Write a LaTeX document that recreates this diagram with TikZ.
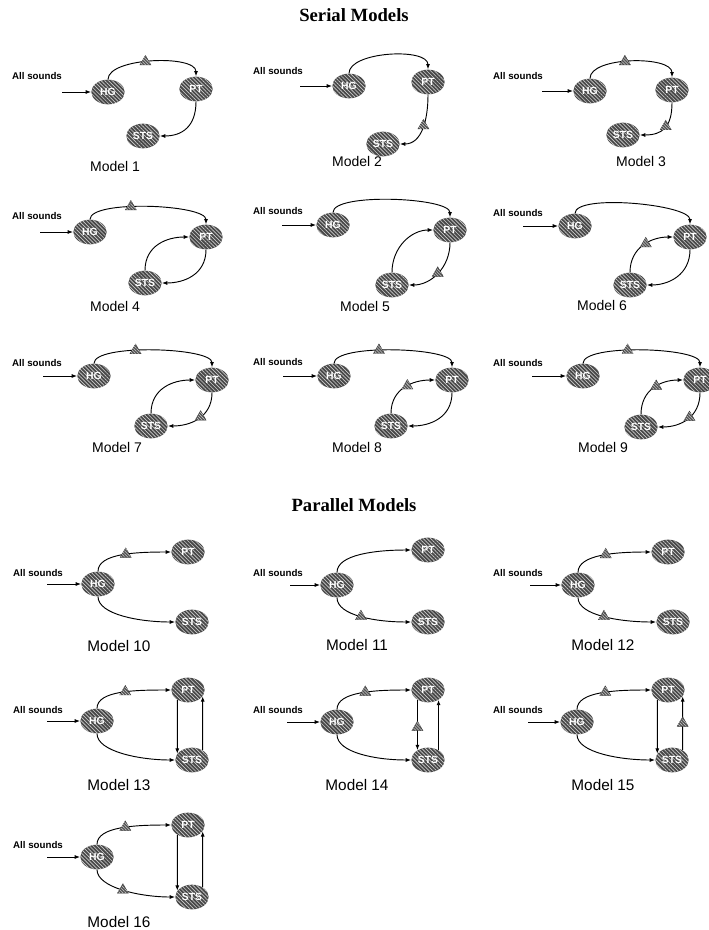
\documentclass[tikz,border=0pt]{standalone}
\usepackage{fontspec}
\setmainfont{Liberation Serif}
\newfontfamily\arialf{Liberation Sans}
\usetikzlibrary{shapes.geometric,patterns.meta,arrows.meta}
\tikzset{
  area/.style={ellipse, minimum width=25pt, minimum height=18.5pt, inner sep=0pt,
    fill=black!72, postaction={pattern={Lines[angle=-45,distance=2pt,line width=0.5pt]}, pattern color=white!80!black},
    text=white, font=\arialf\fontsize{7.8}{8}\selectfont\bfseries},
  tri/.style={regular polygon, regular polygon sides=3, minimum size=9.5pt, inner sep=0pt,
    fill=black!68, draw=black!80, line width=0.3pt,
    postaction={pattern={Lines[angle=-45,distance=1.6pt,line width=0.4pt]}, pattern color=white!80!black}},
  arr/.style={line width=0.7pt, -{Latex[length=4pt,width=3pt]}},
  snd/.style={font=\arialf\fontsize{7.3}{8}\selectfont\bfseries},
  mlab/.style={font=\arialf\fontsize{10.5}{12}\selectfont},
  plab/.style={font=\arialf\fontsize{11.5}{13}\selectfont},
  ttl/.style={font=\bfseries\fontsize{14}{16}\selectfont}
}
\begin{document}
\begin{tikzpicture}[x=0.75pt,y=-0.75pt]
\fill[white] (0,0) rectangle (708,930);
\useasboundingbox (0,0) rectangle (708,930);

\node[ttl] (titleS) at (354,15) {Serial Models};
\node[ttl] (titleP) at (354,505) {Parallel Models};

% ---------- Model 1
\node[snd] (s1) at (37,76) {All sounds};
\coordinate (i1) at (62,92);
\node[area] (hg1) at (108,92) {HG};
\node[area] (pt1) at (196,89) {PT};
\node[area] (st1) at (143,136) {STS};
\draw[arr] (i1) -- (hg1);
\draw[arr] (hg1.north) .. controls +(0,-22) and +(0,-22) .. (pt1.north) node[tri,pos=0.45] (t1a) {};
\draw[arr] (pt1.south) .. controls +(0,25) and +(22,0) .. (st1.east);
\node[mlab] (m1) at (115,166) {Model 1};

% ---------- Model 2
\node[snd] (s2) at (278,71) {All sounds};
\coordinate (i2) at (300,86);
\node[area] (hg2) at (349,86) {HG};
\node[area] (pt2) at (428,82) {PT};
\node[area] (st2) at (383,144) {STS};
\draw[arr] (i2) -- (hg2);
\draw[arr] (hg2.north) .. controls +(0,-22) and +(0,-22) .. (pt2.north);
\draw[arr] (pt2.south) .. controls +(0,25) and +(22,0) .. (st2.east) node[tri,pos=0.45] (t2b) {};
\node[mlab] (m2) at (357,161) {Model 2};

% ---------- Model 3
\node[snd] (s3) at (518,76) {All sounds};
\coordinate (i3) at (542,91);
\node[area] (hg3) at (590,91) {HG};
\node[area] (pt3) at (672,90) {PT};
\node[area] (st3) at (623,135) {STS};
\draw[arr] (i3) -- (hg3);
\draw[arr] (hg3.north) .. controls +(0,-22) and +(0,-22) .. (pt3.north) node[tri,pos=0.45] (t3a) {};
\draw[arr] (pt3.south) .. controls +(0,25) and +(22,0) .. (st3.east) node[tri,pos=0.45] (t3b) {};
\node[mlab] (m3) at (641,161) {Model 3};

% ---------- Model 4
\node[snd] (s4) at (37,216) {All sounds};
\coordinate (i4) at (40,232);
\node[area] (hg4) at (90,232) {HG};
\node[area] (pt4) at (206,237) {PT};
\node[area] (st4) at (145,283) {STS};
\draw[arr] (i4) -- (hg4);
\draw[arr] (hg4.north) .. controls +(0,-20) and +(0,-20) .. (pt4.north) node[tri,pos=0.4] (t4a) {};
\draw[arr] (st4.north) .. controls +(0,-25) and +(-22,0) .. (pt4.west);
\draw[arr] (pt4.south) .. controls +(0,25) and +(22,0) .. (st4.east);
\node[mlab] (m4) at (115,306) {Model 4};

% ---------- Model 5
\node[snd] (s5) at (278,211) {All sounds};
\coordinate (i5) at (282,225);
\node[area] (hg5) at (333,225) {HG};
\node[area] (pt5) at (450,230) {PT};
\node[area] (st5) at (392,285) {STS};
\draw[arr] (i5) -- (hg5);
\draw[arr] (hg5.north) .. controls +(0,-20) and +(0,-20) .. (pt5.north);
\draw[arr] (st5.north) .. controls +(0,-25) and +(-22,0) .. (pt5.west);
\draw[arr] (pt5.south) .. controls +(0,25) and +(22,0) .. (st5.east) node[tri,pos=0.5] (t5b) {};
\node[mlab] (m5) at (365,306) {Model 5};

% ---------- Model 6
\node[snd] (s6) at (518,213) {All sounds};
\coordinate (i6) at (523,226);
\node[area] (hg6) at (575,226) {HG};
\node[area] (pt6) at (690,237) {PT};
\node[area] (st6) at (630,285) {STS};
\draw[arr] (i6) -- (hg6);
\draw[arr] (hg6.north) .. controls +(0,-20) and +(0,-20) .. (pt6.north);
\draw[arr] (st6.north) .. controls +(0,-25) and +(-22,0) .. (pt6.west) node[tri,pos=0.55] (t6c) {};
\draw[arr] (pt6.south) .. controls +(0,25) and +(22,0) .. (st6.east);
\node[mlab] (m6) at (602,305) {Model 6};

% ---------- Model 7
\node[snd] (s7) at (37,363) {All sounds};
\coordinate (i7) at (43,376);
\node[area] (hg7) at (94,376) {HG};
\node[area] (pt7) at (212,380) {PT};
\node[area] (st7) at (151,426) {STS};
\draw[arr] (i7) -- (hg7);
\draw[arr] (hg7.north) .. controls +(0,-20) and +(0,-20) .. (pt7.north) node[tri,pos=0.4] (t7a) {};
\draw[arr] (st7.north) .. controls +(0,-25) and +(-22,0) .. (pt7.west);
\draw[arr] (pt7.south) .. controls +(0,25) and +(22,0) .. (st7.east) node[tri,pos=0.45] (t7b) {};
\node[mlab] (m7) at (117,447) {Model 7};

% ---------- Model 8
\node[snd] (s8) at (278,362) {All sounds};
\coordinate (i8) at (283,376);
\node[area] (hg8) at (334,376) {HG};
\node[area] (pt8) at (452,380) {PT};
\node[area] (st8) at (391,426) {STS};
\draw[arr] (i8) -- (hg8);
\draw[arr] (hg8.north) .. controls +(0,-20) and +(0,-20) .. (pt8.north) node[tri,pos=0.42] (t8a) {};
\draw[arr] (st8.north) .. controls +(0,-25) and +(-22,0) .. (pt8.west) node[tri,pos=0.55] (t8c) {};
\draw[arr] (pt8.south) .. controls +(0,25) and +(22,0) .. (st8.east);
\node[mlab] (m8) at (357,447) {Model 8};

% ---------- Model 9
\node[snd] (s9) at (518,363) {All sounds};
\coordinate (i9) at (532,376);
\node[area] (hg9) at (583,376) {HG};
\node[area] (pt9) at (700,380) {PT};
\node[area] (st9) at (641,427) {STS};
\draw[arr] (i9) -- (hg9);
\draw[arr] (hg9.north) .. controls +(0,-20) and +(0,-20) .. (pt9.north) node[tri,pos=0.42] (t9a) {};
\draw[arr] (st9.north) .. controls +(0,-25) and +(-22,0) .. (pt9.west) node[tri,pos=0.55] (t9c) {};
\draw[arr] (pt9.south) .. controls +(0,25) and +(22,0) .. (st9.east) node[tri,pos=0.45] (t9b) {};
\node[mlab] (m9) at (603,447) {Model 9};

% ================= Parallel
% ---------- Model 10
\node[snd] (s10) at (38,573) {All sounds};
\coordinate (i10) at (47,584);
\node[area] (hg10) at (98,584) {HG};
\node[area] (pt10) at (188,552) {PT};
\node[area] (st10) at (192,622) {STS};
\draw[arr] (i10) -- (hg10);
\draw[arr] (hg10.north) .. controls +(0,-18) and +(-35,0) .. (pt10.west) node[tri,pos=0.55] (t10a) {};
\draw[arr] (hg10.south) .. controls +(0,18) and +(-35,0) .. (st10.west);
\node[plab] (m10) at (119,646) {Model 10};

% ---------- Model 11
\node[snd] (s11) at (278,573) {All sounds};
\coordinate (i11) at (290,585);
\node[area] (hg11) at (337,585) {HG};
\node[area] (pt11) at (428,550) {PT};
\node[area] (st11) at (428,622) {STS};
\draw[arr] (i11) -- (hg11);
\draw[arr] (hg11.north) .. controls +(0,-18) and +(-35,0) .. (pt11.west);
\draw[arr] (hg11.south) .. controls +(0,18) and +(-35,0) .. (st11.west) node[tri,pos=0.5] (t11b) {};
\node[plab] (m11) at (357,645) {Model 11};

% ---------- Model 12
\node[snd] (s12) at (518,573) {All sounds};
\coordinate (i12) at (530,585);
\node[area] (hg12) at (578,585) {HG};
\node[area] (pt12) at (668,552) {PT};
\node[area] (st12) at (673,622) {STS};
\draw[arr] (i12) -- (hg12);
\draw[arr] (hg12.north) .. controls +(0,-18) and +(-35,0) .. (pt12.west) node[tri,pos=0.55] (t12a) {};
\draw[arr] (hg12.south) .. controls +(0,18) and +(-35,0) .. (st12.west) node[tri,pos=0.5] (t12b) {};
\node[plab] (m12) at (603,645) {Model 12};

% ---------- Model 13
\node[snd] (s13) at (38,710) {All sounds};
\coordinate (i13) at (47,721);
\node[area] (hg13) at (97,721) {HG};
\node[area] (pt13) at (188,690) {PT};
\node[area] (st13) at (192,760) {STS};
\draw[arr] (i13) -- (hg13);
\draw[arr] (hg13.north) .. controls +(0,-18) and +(-35,0) .. (pt13.west) node[tri,pos=0.55] (t13a) {};
\draw[arr] (hg13.south) .. controls +(0,18) and +(-35,0) .. (st13.west);
\draw[arr] (pt13.223) -- (st13.157);
\draw[arr] (st13.43) -- (pt13.337);
\node[plab] (m13) at (119,785) {Model 13};

% ---------- Model 14
\node[snd] (s14) at (278,710) {All sounds};
\coordinate (i14) at (287,722);
\node[area] (hg14) at (337,722) {HG};
\node[area] (pt14) at (428,690) {PT};
\node[area] (st14) at (428,760) {STS};
\draw[arr] (i14) -- (hg14);
\draw[arr] (hg14.north) .. controls +(0,-18) and +(-35,0) .. (pt14.west) node[tri,pos=0.55] (t14a) {};
\draw[arr] (hg14.south) .. controls +(0,18) and +(-35,0) .. (st14.west);
\draw[arr] (pt14.223) -- (st14.137) node[tri,pos=0.55] (t14c) {};
\draw[arr] (st14.43) -- (pt14.317);
\node[plab] (m14) at (357,785) {Model 14};

% ---------- Model 15
\node[snd] (s15) at (518,710) {All sounds};
\coordinate (i15) at (528,722);
\node[area] (hg15) at (577,722) {HG};
\node[area] (pt15) at (668,690) {PT};
\node[area] (st15) at (672,760) {STS};
\draw[arr] (i15) -- (hg15);
\draw[arr] (hg15.north) .. controls +(0,-18) and +(-35,0) .. (pt15.west) node[tri,pos=0.55] (t15a) {};
\draw[arr] (hg15.south) .. controls +(0,18) and +(-35,0) .. (st15.west);
\draw[arr] (pt15.223) -- (st15.157);
\draw[arr] (st15.43) -- (pt15.337) node[tri,pos=0.5] (t15c) {};
\node[plab] (m15) at (603,785) {Model 15};

% ---------- Model 16
\node[snd] (s16) at (38,845) {All sounds};
\coordinate (i16) at (47,857);
\node[area] (hg16) at (97,857) {HG};
\node[area] (pt16) at (188,825) {PT};
\node[area] (st16) at (192,897) {STS};
\draw[arr] (i16) -- (hg16);
\draw[arr] (hg16.north) .. controls +(0,-18) and +(-35,0) .. (pt16.west) node[tri,pos=0.55] (t16a) {};
\draw[arr] (hg16.south) .. controls +(0,18) and +(-35,0) .. (st16.west) node[tri,pos=0.5] (t16b) {};
\draw[arr] (pt16.223) -- (st16.157);
\draw[arr] (st16.43) -- (pt16.337);
\node[plab] (m16) at (119,922) {Model 16};
\end{tikzpicture}
\end{document}
